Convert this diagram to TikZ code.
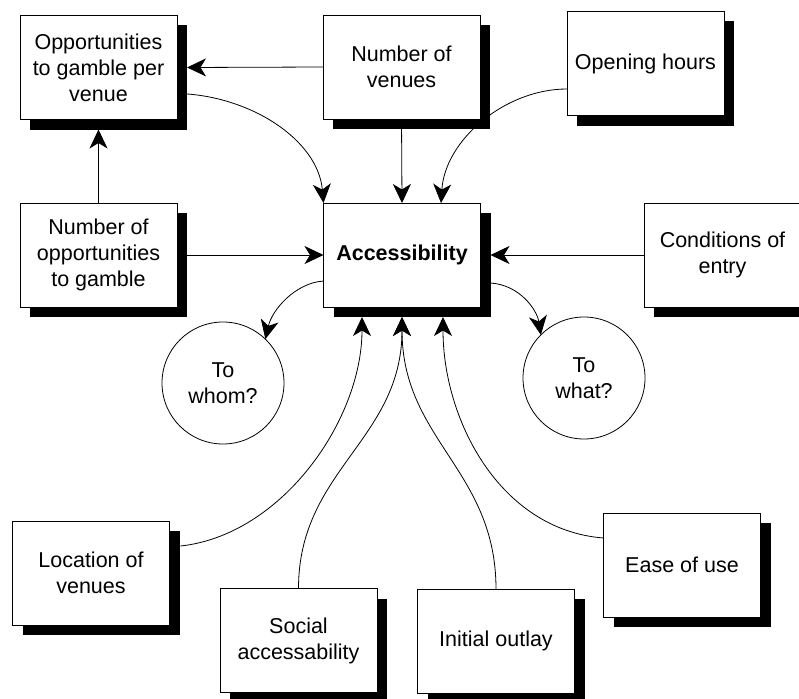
\documentclass[tikz,border=0pt]{standalone}
\usepackage{fontspec}
\setmainfont{Liberation Sans}
\usetikzlibrary{arrows.meta,shadows}
\begin{document}
\begin{tikzpicture}[x=1pt,y=-1pt,
  factor/.style={draw,line width=0.8pt,fill=white,minimum width=157pt,minimum height=104pt,
    inner sep=0pt,outer sep=0pt,align=center,
    font=\fontsize{21.5}{26}\selectfont,
    drop shadow={shadow xshift=10pt,shadow yshift=-10pt,opacity=1,fill=black}},
  question/.style={draw,line width=0.8pt,circle,fill=white,minimum size=122pt,inner sep=0pt,
    outer sep=0pt,align=center,font=\fontsize{21.5}{26}\selectfont},
  link/.style={line width=0.8pt,-{Stealth[length=19pt,width=18pt,inset=5.5pt]}}]
\useasboundingbox (0,0) rectangle (799,698);
\clip (0,0) rectangle (799,698);

% factor boxes
\node[factor] (opv)  at (98.5,67.5) {Opportunities\\to gamble per\\venue};
\node[factor] (nov)  at (401.5,67)  {Number of\\venues};
\node[factor] (oh)   at (645.5,63.5){Opening hours};
\node[factor] (noo)  at (98.5,255)  {Number of\\opportunities\\to gamble};
\node[factor] (acc)  at (402,255)   {\bfseries Accessibility};
\node[factor] (coe)  at (722.5,255) {Conditions of\\entry};
\node[factor] (loc)  at (91,573)    {Location of\\venues};
\node[factor] (soc)  at (298.5,640.5){Social\\accessability};
\node[factor] (ini)  at (496,641)   {Initial outlay};
\node[factor] (ease) at (682,565)   {Ease of use};

% questions
\node[question] (whom) at (223,383) {To\\whom?};
\node[question] (what) at (584,378) {To\\what?};

% upper influences
\draw[link] (nov.west) -- ([xshift=10pt]opv.east);
\draw[link] (noo.north) -- ([yshift=-10pt]opv.south);
\draw[link] ([yshift=-26pt]opv.east) .. controls (250,95) and (318,140) .. (acc.north west);
\draw[link] (nov.south) -- (acc.north);
\draw[link] ([yshift=-25.5pt]oh.west) .. controls (505,89) and (445,140) .. ([xshift=39pt]acc.north);
\draw[link] (noo.east) -- (acc.west);
\draw[link] (coe.west) -- ([xshift=10pt]acc.east);

% accessibility to whom / to what
\draw[link] ([yshift=-26pt]acc.west) .. controls (295,283) and (272,310) .. (whom.46);
\draw[link] ([xshift=10pt,yshift=-28pt]acc.east) .. controls (520,285) and (537,310) .. (what.135);

% lower influences
\draw[link] ([xshift=11pt,yshift=27pt]loc.east) .. controls (282,535) and (362,420) .. ([xshift=-40pt,yshift=-10pt]acc.south);
\draw[link] (soc.north) .. controls (298.5,470) and (402,440) .. ([yshift=-10pt]acc.south);
\draw[link] (ini.north) .. controls (496,470) and (402,440) .. ([yshift=-10pt]acc.south);
\draw[link] ([yshift=27pt]ease.west) .. controls (500,530) and (443,420) .. ([xshift=41pt,yshift=-10pt]acc.south);
\end{tikzpicture}
\end{document}
